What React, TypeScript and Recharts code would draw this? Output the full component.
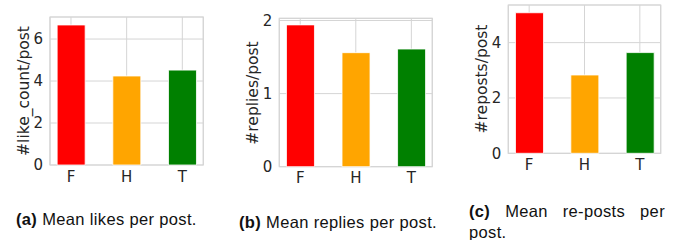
import React from 'react';
import { BarChart, Bar, XAxis, YAxis, CartesianGrid, Cell, ReferenceArea } from 'recharts';

const categories = ['F', 'H', 'T'];
const barColors = ['#ff0000', '#ffa500', '#008000'];

const likeValues = [6.67, 4.24, 4.52];
const replyValues = [1.94, 1.56, 1.61];
const repostValues = [5.08, 2.83, 3.64];

const likeTicks = [0, 2, 4, 6];
const replyTicks = [0, 1, 2];
const repostTicks = [0, 2, 4];

const xDomain: [number, number] = [-0.377, 2.377];
const grid = '#d5d5d5';
const ink = '#262626';
const chartFont = '"DejaVu Sans", sans-serif';

interface PanelProps {
  left: number;
  width: number;
  height: number;
  plotLeft: number;
  plotRight: number;
  plotTop: number;
  plotBottom: number;
  values: number[];
  ticks: number[];
  yMax: number;
  yLabel: string;
  labelX: number;
}

const Panel: React.FC<PanelProps> = (p) => {
  const axisW = 40;
  const axisH = 25;
  const data = categories.map((c, i) => ({ pos: i, name: c, value: p.values[i] }));
  return (
    <div style={{ position: 'absolute', left: p.left, top: 0, width: p.width, height: p.height }}>
      <BarChart
        width={p.width}
        height={p.height}
        data={data}
        margin={{
          top: p.plotTop,
          left: p.plotLeft - axisW,
          right: p.width - p.plotRight,
          bottom: p.height - p.plotBottom - axisH,
        }}
      >
        <CartesianGrid stroke={grid} strokeWidth={1} />
        <XAxis
          dataKey="pos"
          type="number"
          domain={xDomain}
          ticks={[0, 1, 2]}
          tickFormatter={(i: number) => categories[i]}
          axisLine={false}
          tickLine={false}
          tickSize={0}
          tickMargin={6}
          height={axisH}
          tick={{ fill: ink, fontSize: 15, fontFamily: chartFont }}
        />
        <YAxis
          type="number"
          domain={[0, p.yMax]}
          ticks={p.ticks}
          axisLine={false}
          tickLine={false}
          tickSize={0}
          tickMargin={7}
          width={axisW}
          tick={{ fill: ink, fontSize: 15, fontFamily: chartFont }}
        />
        <Bar dataKey="value" barSize={28} stroke="#fff" strokeWidth={0.8} isAnimationActive={false}>
          {data.map((d, i) => (
            <Cell key={d.name} fill={barColors[i]} />
          ))}
        </Bar>
        <ReferenceArea x1={xDomain[0]} x2={xDomain[1]} y1={0} y2={p.yMax} fill="none" stroke={grid} strokeWidth={1.2} />
      </BarChart>
      <div
        style={{
          position: 'absolute',
          left: p.labelX,
          top: (p.plotTop + p.plotBottom) / 2,
          transform: 'translate(-50%, -50%) rotate(-90deg)',
          whiteSpace: 'nowrap',
          fontFamily: chartFont,
          fontSize: 15.5,
          color: ink,
        }}
      >
        {p.yLabel}
      </div>
    </div>
  );
};

const captionStyle: React.CSSProperties = {
  position: 'absolute',
  fontFamily: '"Liberation Sans", Arial, sans-serif',
  fontSize: 16.5,
  lineHeight: '18px',
  letterSpacing: 0.35,
  color: '#111',
  whiteSpace: 'nowrap',
};

export default function App() {
  return (
    <div style={{ position: 'absolute', left: 0, top: 0, width: 678, height: 240, background: '#fff', overflow: 'hidden' }}>
      <Panel left={0} width={222} height={195} plotLeft={50} plotRight={203.3} plotTop={17} plotBottom={165}
        values={likeValues} ticks={likeTicks} yMax={7.05} yLabel="#like_count/post" labelX={24} />
      <Panel left={228} width={222} height={197} plotLeft={51.3} plotRight={204.3} plotTop={18.3} plotBottom={166.7}
        values={replyValues} ticks={replyTicks} yMax={2.03} yLabel="#replies/post" labelX={25} />
      <Panel left={455} width={223} height={185} plotLeft={53.3} plotRight={205.7} plotTop={5} plotBottom={153.3}
        values={repostValues} ticks={repostTicks} yMax={5.36} yLabel="#reposts/post" labelX={27} />

      <div style={{ ...captionStyle, left: 16, top: 210 }}>
        <b>(a)</b> Mean likes per post.
      </div>
      <div style={{ ...captionStyle, left: 239, top: 212.5 }}>
        <b>(b)</b> Mean replies per post.
      </div>
      <div style={{ ...captionStyle, left: 469, top: 202, width: 196, display: 'flex', justifyContent: 'space-between' }}>
        <b>(c)</b>
        <span>Mean</span>
        <span>re-posts</span>
        <span>per</span>
      </div>
      <div style={{ ...captionStyle, left: 469, top: 222.5 }}>post.</div>
    </div>
  );
}
